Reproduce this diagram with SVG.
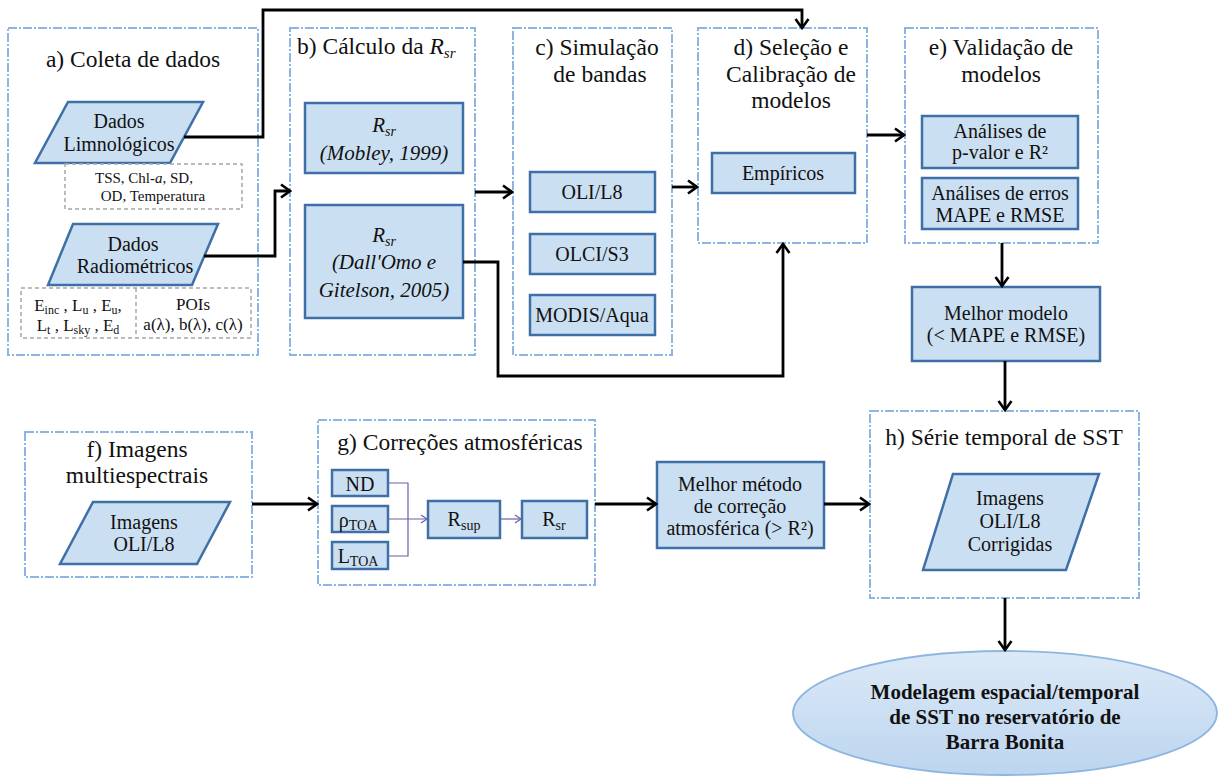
<svg xmlns="http://www.w3.org/2000/svg" width="1219" height="777" viewBox="0 0 1219 777" font-family="'Liberation Serif', 'DejaVu Serif', serif">
<style>
text{font-family:'Liberation Serif','DejaVu Serif',serif;fill:#111}
.title{font-size:23.5px}
.t20{font-size:20px}
.t15{font-size:15px}
.t17{font-size:17px}
.it{font-style:italic}
.bold{font-weight:bold;font-size:21px}
.cont{fill:#fff;stroke:#8db4e2;stroke-width:2;stroke-dasharray:9,2,2,2}
.box{fill:#cbdff2;stroke:#3e6fa6;stroke-width:2.5}
.gbox{fill:#fff;stroke:#a6a6a6;stroke-width:1.5;stroke-dasharray:4,3}
.conn{fill:none;stroke:#000;stroke-width:2.8}
.thin{fill:none;stroke:#6a5fa8;stroke-width:1.2}
</style>
<defs>
<marker id="ah" markerWidth="14" markerHeight="16" refX="12" refY="8" orient="auto" markerUnits="userSpaceOnUse">
<path d="M3,1.5 L12,8 L3,14.5" fill="none" stroke="#000" stroke-width="2.6"/>
</marker>
<marker id="ahp" markerWidth="10" markerHeight="10" refX="8" refY="5" orient="auto" markerUnits="userSpaceOnUse">
<path d="M2,1 L8,5 L2,9" fill="none" stroke="#6a5fa8" stroke-width="1.2"/>
</marker>
<linearGradient id="eg" x1="0" y1="0" x2="0" y2="1">
<stop offset="0" stop-color="#dce9f7"/>
<stop offset="1" stop-color="#bcd5ef"/>
</linearGradient>
</defs>
<rect width="1219" height="777" fill="#fff"/>

<g id="a-coleta">
<rect class="cont" x="8" y="28" width="250" height="327"/>
<text class="title" x="133" y="67" text-anchor="middle">a) Coleta de dados</text>
</g>
<g id="dados-limnologicos">
<polygon class="box" points="68,102 203,102 170,163 35,163"/>
<text class="t20" x="119" y="128" text-anchor="middle">Dados</text>
<text class="t20" x="119" y="151" text-anchor="middle">Limnológicos</text>
</g>
<g id="limno-params">
<rect class="gbox" x="65" y="164" width="177" height="45"/>
<text class="t15" x="144" y="183" text-anchor="middle">TSS, Chl-<tspan font-style="italic">a</tspan>, SD,</text>
<text class="t15" x="153" y="201" text-anchor="middle">OD, Temperatura</text>
</g>
<g id="dados-radiometricos">
<polygon class="box" points="73,224 218,224 192,285 48,285"/>
<text class="t20" x="133" y="251" text-anchor="middle">Dados</text>
<text class="t20" x="135" y="273" text-anchor="middle">Radiométricos</text>
</g>
<g id="radio-params">
<rect class="gbox" x="21" y="288" width="230" height="50"/>
<line class="gbox" x1="136" y1="288" x2="136" y2="338"/>
<text class="t17" x="78" y="311" text-anchor="middle">E<tspan font-size="12" dy="3">inc</tspan><tspan dy="-3"> , L</tspan><tspan font-size="12" dy="3">u</tspan><tspan dy="-3"> , E</tspan><tspan font-size="12" dy="3">u</tspan><tspan dy="-3">,</tspan></text>
<text class="t17" x="78" y="331" text-anchor="middle">L<tspan font-size="12" dy="3">t</tspan><tspan dy="-3"> , L</tspan><tspan font-size="12" dy="3">sky</tspan><tspan dy="-3"> , E</tspan><tspan font-size="12" dy="3">d</tspan></text>
<text class="t17" x="193" y="310" text-anchor="middle">POIs</text>
<text class="t17" x="193" y="330" text-anchor="middle">a(λ), b(λ), c(λ)</text>
</g>

<g id="b-calculo">
<rect class="cont" x="290" y="28" width="185" height="327"/>
<text class="title" x="297" y="54">b) Cálculo da <tspan font-style="italic">R</tspan><tspan font-style="italic" font-size="15" dy="4">sr</tspan></text>
</g>
<g id="rsr-mobley">
<rect class="box" x="305" y="103" width="158" height="70"/>
<text class="it" x="384" y="132" text-anchor="middle" font-size="21">R<tspan font-size="14" dy="4">sr</tspan></text>
<text class="it" x="384" y="160" text-anchor="middle" font-size="21">(Mobley, 1999)</text>
</g>
<g id="rsr-dallomo">
<rect class="box" x="305" y="205" width="158" height="113"/>
<text class="it" x="384" y="242" text-anchor="middle" font-size="21">R<tspan font-size="14" dy="4">sr</tspan></text>
<text class="it" x="384" y="269" text-anchor="middle" font-size="21">(Dall'Omo e</text>
<text class="it" x="384" y="297" text-anchor="middle" font-size="21">Gitelson, 2005)</text>
</g>

<g id="c-simulacao">
<rect class="cont" x="513" y="28" width="159" height="327"/>
<text class="title" x="597" y="55" text-anchor="middle">c) Simulação</text>
<text class="title" x="600" y="82" text-anchor="middle">de bandas</text>
</g>
<g id="oli-l8">
<rect class="box" x="530" y="172" width="125" height="40"/>
<text class="t20" x="592" y="199" text-anchor="middle">OLI/L8</text>
</g>
<g id="olci-s3">
<rect class="box" x="530" y="234" width="125" height="40"/>
<text class="t20" x="592" y="261" text-anchor="middle">OLCI/S3</text>
</g>
<g id="modis-aqua">
<rect class="box" x="530" y="295" width="125" height="40"/>
<text class="t20" x="592" y="322" text-anchor="middle">MODIS/Aqua</text>
</g>

<g id="d-selecao">
<rect class="cont" x="698" y="28" width="169" height="215"/>
<text class="title" x="791" y="55" text-anchor="middle">d) Seleção e</text>
<text class="title" x="791" y="82" text-anchor="middle">Calibração de</text>
<text class="title" x="791" y="108" text-anchor="middle">modelos</text>
</g>
<g id="empiricos">
<rect class="box" x="712" y="153" width="143" height="40"/>
<text class="t20" x="783" y="180" text-anchor="middle">Empíricos</text>
</g>

<g id="e-validacao">
<rect class="cont" x="905" y="28" width="193" height="215"/>
<text class="title" x="1001" y="55" text-anchor="middle">e) Validação de</text>
<text class="title" x="1001" y="82" text-anchor="middle">modelos</text>
</g>
<g id="analises-pvalor">
<rect class="box" x="922" y="116" width="156" height="52"/>
<text class="t20" x="1000" y="138" text-anchor="middle">Análises de</text>
<text class="t20" x="1000" y="159" text-anchor="middle">p-valor e R²</text>
</g>
<g id="analises-erros">
<rect class="box" x="922" y="178" width="156" height="51"/>
<text class="t20" x="1000" y="200" text-anchor="middle">Análises de erros</text>
<text class="t20" x="1000" y="222" text-anchor="middle">MAPE e RMSE</text>
</g>

<g id="melhor-modelo">
<rect class="box" x="912" y="287" width="188" height="74"/>
<text class="t20" x="1006" y="320" text-anchor="middle">Melhor modelo</text>
<text class="t20" x="1006" y="342" text-anchor="middle">(&lt; MAPE e RMSE)</text>
</g>

<g id="f-imagens">
<rect class="cont" x="25" y="432" width="227" height="145"/>
<text class="title" x="137" y="457" text-anchor="middle">f) Imagens</text>
<text class="title" x="137" y="483" text-anchor="middle">multiespectrais</text>
</g>
<g id="imagens-oli">
<polygon class="box" points="93,502 230,502 197,564 60,564"/>
<text class="t20" x="144" y="529" text-anchor="middle">Imagens</text>
<text class="t20" x="144" y="551" text-anchor="middle">OLI/L8</text>
</g>

<g id="g-correcoes">
<rect class="cont" x="318" y="420" width="277" height="165"/>
<text class="title" x="460" y="450" text-anchor="middle">g) Correções atmosféricas</text>
</g>
<g id="nd">
<rect class="box" x="332" y="470" width="56" height="26"/>
<text class="t20" x="360" y="491" text-anchor="middle">ND</text>
</g>
<g id="rho-toa">
<rect class="box" x="332" y="506" width="56" height="26"/>
<text class="t20" x="358" y="527" text-anchor="middle">ρ<tspan font-size="14" dy="3">TOA</tspan></text>
</g>
<g id="l-toa">
<rect class="box" x="332" y="542" width="56" height="27"/>
<text class="t20" x="358" y="563" text-anchor="middle">L<tspan font-size="14" dy="3">TOA</tspan></text>
</g>
<g id="r-sup">
<rect class="box" x="428" y="501" width="72" height="37"/>
<text class="t20" x="464" y="526" text-anchor="middle">R<tspan font-size="14" dy="4">sup</tspan></text>
</g>
<g id="r-sr">
<rect class="box" x="522" y="501" width="65" height="37"/>
<text class="t20" x="554" y="526" text-anchor="middle">R<tspan font-size="14" dy="4">sr</tspan></text>
</g>

<g id="melhor-metodo">
<rect class="box" x="657" y="462" width="167" height="86"/>
<text class="t20" x="740" y="491" text-anchor="middle">Melhor método</text>
<text class="t20" x="740" y="513" text-anchor="middle">de correção</text>
<text class="t20" x="740" y="535" text-anchor="middle">atmosférica (&gt; R²)</text>
</g>

<g id="h-serie">
<rect class="cont" x="870" y="411" width="269" height="187"/>
<text class="title" x="1004" y="445" text-anchor="middle">h) Série temporal de SST</text>
</g>
<g id="imagens-corrigidas">
<polygon class="box" points="953,474 1099,474 1066,570 923,570"/>
<text class="t20" x="1010" y="505" text-anchor="middle">Imagens</text>
<text class="t20" x="1010" y="528" text-anchor="middle">OLI/L8</text>
<text class="t20" x="1010" y="551" text-anchor="middle">Corrigidas</text>
</g>

<g id="modelagem">
<ellipse cx="1005" cy="713" rx="212" ry="62" fill="url(#eg)" stroke="#8eb6e0" stroke-width="1.8"/>
<text class="bold" x="1005" y="699" text-anchor="middle">Modelagem espacial/temporal</text>
<text class="bold" x="1005" y="724" text-anchor="middle">de SST no reservatório de</text>
<text class="bold" x="1005" y="749" text-anchor="middle">Barra Bonita</text>
</g>

<g id="connectors">
<path class="conn" d="M184,137 H263 V10 H802 V28" marker-end="url(#ah)"/>
<path class="conn" d="M204,256 H275 V191 H290" marker-end="url(#ah)"/>
<path class="conn" d="M475,192 H512" marker-end="url(#ah)"/>
<path class="conn" d="M463,262 H498 V376 H783 V244" marker-end="url(#ah)"/>
<path class="conn" d="M672,187 H697" marker-end="url(#ah)"/>
<path class="conn" d="M867,135 H904" marker-end="url(#ah)"/>
<path class="conn" d="M1002,243 V286" marker-end="url(#ah)"/>
<path class="conn" d="M1005,361 V410" marker-end="url(#ah)"/>
<path class="conn" d="M252,504 H317" marker-end="url(#ah)"/>
<path class="conn" d="M595,504 H656" marker-end="url(#ah)"/>
<path class="conn" d="M824,504 H869" marker-end="url(#ah)"/>
<path class="conn" d="M1005,598 V650" marker-end="url(#ah)"/>
<path class="thin" d="M388,483 H408 V556 H388"/>
<path class="thin" d="M388,519 H427" marker-end="url(#ahp)"/>
<path class="thin" d="M500,519 H521" marker-end="url(#ahp)"/>
</g>
</svg>
